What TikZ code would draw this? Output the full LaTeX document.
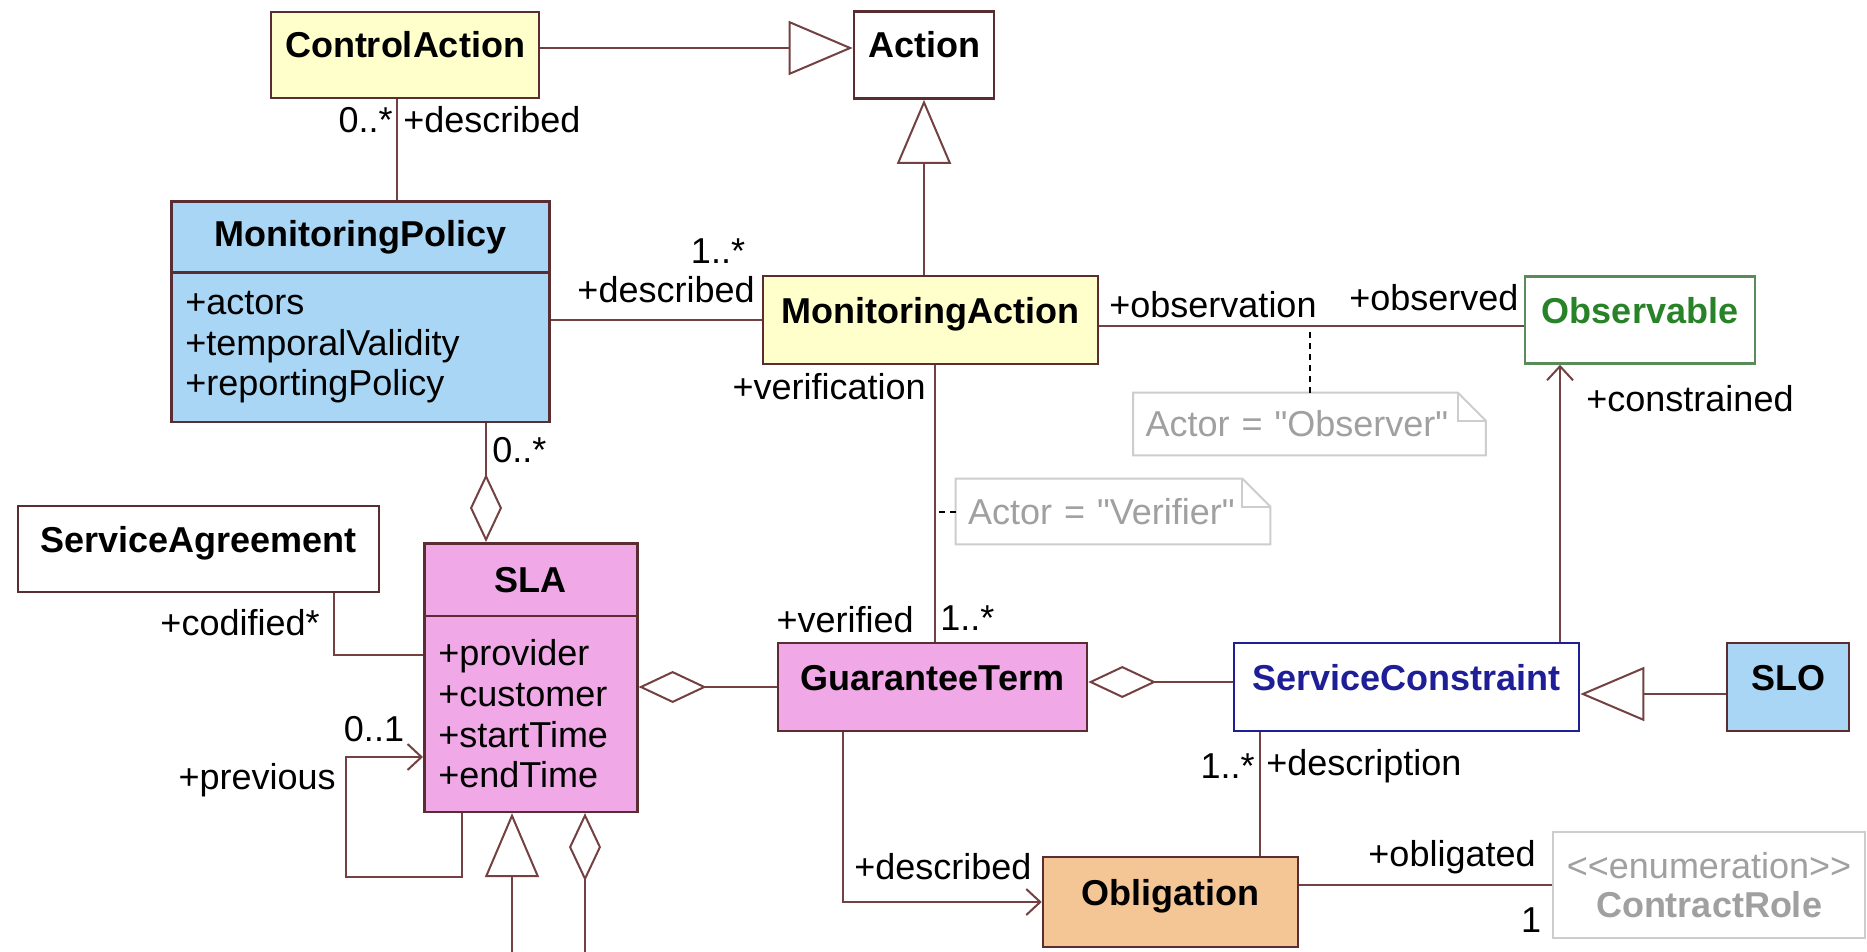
\documentclass[tikz,border=0pt]{standalone}
\usepackage{fontspec}
\setmainfont{Liberation Sans}
\newfontfamily\notefont{Liberation Sans}
\usetikzlibrary{shapes.multipart, arrows.meta, positioning, calc}
\definecolor{clsyellow}{RGB}{255, 255, 204}
\definecolor{clsblue}{RGB}{168, 214, 244}
\definecolor{clspink}{RGB}{240, 168, 230}
\definecolor{clsorange}{RGB}{244, 198, 150}
\definecolor{clsborder}{RGB}{90, 45, 50}
\definecolor{linkbrown}{RGB}{115, 65, 65}
\definecolor{obsgreen}{RGB}{40, 130, 40}
\definecolor{obsframe}{RGB}{90, 140, 90}
\definecolor{scblue}{RGB}{30, 30, 150}
\definecolor{notegray}{RGB}{160, 160, 160}
\definecolor{noteframe}{RGB}{205, 205, 205}

\begin{document}
\begin{tikzpicture}[x=0.5pt, y=-0.5pt,
  cls/.style={draw=clsborder, line width=1.3pt, font=\bfseries\fontsize{18}{20}\selectfont,
              inner sep=0pt, text height=12pt, text depth=9pt},
  splitcls/.style={draw=clsborder, line width=1.3pt, font=\fontsize{18}{20.3}\selectfont,
              rectangle split, rectangle split parts=2, rectangle split part align={center,left},
              align=left, inner xsep=7pt, anchor=north west},
  lbl/.style={font=\fontsize{18}{20}\selectfont, inner sep=1pt},
  note/.style={font=\notefont\fontsize{18}{20}\selectfont, text=notegray, inner xsep=6pt, align=left},
  assoc/.style={draw=linkbrown, line width=1pt},
  gen/.style={assoc, -{Triangle[open, length=32pt, width=27pt]}},
  agg/.style={assoc, -{Diamond[open, length=34pt, width=16pt]}},
  nav/.style={assoc, -{Straight Barb[length=7pt, width=13pt]}},
  dotline/.style={draw=black, line width=1pt, dash pattern=on 3pt off 2.5pt},
]
\path[use as bounding box, fill=white] (0,0) rectangle (1867,952);
\clip (0,0) rectangle (1867,952);

% Classes
\node[cls, fill=clsyellow, minimum width=134pt, minimum height=43pt] (ca) at (405,55) {ControlAction};
\node[cls, fill=white, minimum width=70pt, minimum height=43.5pt] (act) at (924,55) {Action};
\node[splitcls, fill=clsblue, minimum width=189pt, inner ysep=8.75pt] (mp) at (170,200)
  {\textbf{MonitoringPolicy}\nodepart{two}+actors\\+temporalValidity\\+reportingPolicy};
\node[cls, fill=clsyellow, minimum width=167.5pt, minimum height=44pt] (ma) at (930.5,320) {MonitoringAction};
\node[cls, draw=obsframe, text=obsgreen, fill=white, minimum width=115pt, minimum height=43.5pt] (obs) at (1640,320) {Observable};
\node[cls, fill=white, minimum width=180.5pt, minimum height=43pt] (sa) at (198.5,549) {ServiceAgreement};
\node[splitcls, fill=clspink, minimum width=106.5pt, inner ysep=11.2pt] (sla) at (423,542)
  {\textbf{SLA}\nodepart{two}+provider\\+customer\\+startTime\\+endTime};
\node[cls, fill=clspink, minimum width=154.5pt, minimum height=44pt] (gt) at (932.5,687) {GuaranteeTerm};
\node[cls, draw=scblue, text=scblue, fill=white, minimum width=172.5pt, minimum height=44pt] (sc) at (1406.5,687) {ServiceConstraint};
\node[cls, fill=clsblue, minimum width=61pt, minimum height=44pt] (slo) at (1788,687) {SLO};
\node[cls, fill=clsorange, minimum width=127.5pt, minimum height=45pt] (obl) at (1170.5,902) {Obligation};
\node[draw=noteframe, line width=1.3pt, fill=white, text=notegray, align=center, inner sep=0pt,
      minimum width=156pt, minimum height=53pt, font=\fontsize{18}{19.5}\selectfont] (cr) at (1709,885)
  {<{}<enumeration>{}>\\\textbf{ContractRole}};

% Notes
\node[note, text width=164pt, minimum height=31pt] (nobs) at (1309.5,424) {Actor = "Observer"};
\node[note, text width=145pt, minimum height=32.5pt] (nver) at (1113,511.5) {Actor = "Verifier"};
\foreach \n in {nobs, nver} {
  \draw[noteframe, line width=1pt] (\n.south west) -- (\n.north west) -- ([xshift=-14pt]\n.north east)
    -- ([yshift=-14pt]\n.north east) -- (\n.south east) -- cycle;
  \draw[noteframe, line width=1pt] ([xshift=-14pt]\n.north east) -- ([xshift=-14pt,yshift=-14pt]\n.north east)
    -- ([yshift=-14pt]\n.north east);
}
\draw[dotline] (nobs.north) -- (nobs.north |- 0,326);
\draw[dotline] (nver.west) -- (nver.west -| 935,0);

% Generalizations
\draw[gen] ([yshift=3.5pt]ca.east) -- ([yshift=3.5pt]act.west);
\draw[gen] (ma.north -| act.south) -- (act.south);
\draw[gen] ([yshift=-3.5pt]slo.west) -- ([yshift=-3.5pt]slo.west -| sc.east);
\coordinate (slasub) at (512,960);
\draw[gen] (slasub) -- (slasub |- sla.south);

% Aggregations
\draw[agg] (mp.south -| 486,0) -- (sla.north -| 486,0);
\draw[agg] (gt.west) -- (gt.west -| sla.east);
\draw[agg] ([yshift=2.5pt]sc.west) -- ([yshift=2.5pt]sc.west -| gt.east);
\coordinate (slaagg) at (585,960);
\draw[agg] (slaagg) -- (slaagg |- sla.south);

% Associations
\draw[assoc] ([xshift=-4pt]ca.south) -- ([xshift=-4pt]ca.south |- mp.north);
\draw[assoc] (mp.east |- ma.west) -- (ma.west);
\draw[assoc] ([yshift=-3pt]ma.east) -- ([yshift=-3pt]ma.east -| obs.west);
\draw[assoc] ([xshift=2pt]ma.south) -- ([xshift=2pt]ma.south |- gt.north);
\draw[assoc] ($(sa.south east)+(-46,0)$) |- (sla.west |- 0,655);
\draw[nav] ([xshift=19.5pt]sla.south west) -- ++(0,64) -| (346,757) -- (sla.west |- 346,757);
\draw[nav] (sc.north -| 1560,0) -- (obs.south -| 1560,0);
\draw[assoc] (sc.south -| 1260,0) -- (obl.north -| 1260,0);
\draw[nav] (gt.south -| 843,0) |- (obl.west);
\draw[assoc] (obl.east |- cr.west) -- (cr.west);

% Role names and multiplicities
\node[lbl, anchor=east] (l1) at (395,120) {0..*};
\node[lbl, anchor=west] (l2) at (401,120) {+described};
\node[lbl] (l3) at (718,251) {1..*};
\node[lbl, anchor=east] (l4) at (757,290) {+described};
\node[lbl, anchor=west] (l5) at (1107,305) {+observation};
\node[lbl, anchor=west] (l6) at (1347,298) {+observed};
\node[lbl, anchor=east] (l7) at (928,387) {+verification};
\node[lbl, anchor=west] (l8) at (1584,399) {+constrained};
\node[lbl, anchor=west] (l9) at (490,450) {0..*};
\node[lbl, anchor=east] (l10) at (322,623) {+codified*};
\node[lbl] (l11) at (374,729) {0..1};
\node[lbl, anchor=east] (l12) at (338,780) {+previous};
\node[lbl, anchor=east] (l13) at (916,620) {+verified};
\node[lbl, anchor=west] (l14) at (938,618) {1..*};
\node[lbl, anchor=east] (l15) at (1257,766) {1..*};
\node[lbl, anchor=west] (l16) at (1264,766) {+description};
\node[lbl, anchor=west] (l17) at (852,867) {+described};
\node[lbl, anchor=east] (l18) at (1538,857) {+obligated};
\node[lbl] (l19) at (1531,920) {1};
\end{tikzpicture}
\end{document}
